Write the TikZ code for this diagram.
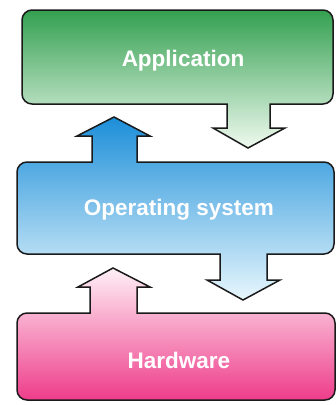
\documentclass[tikz,border=0pt]{standalone}
\usepackage{fontspec}
\setmainfont{Liberation Sans}
\definecolor{gTop}{HTML}{33A050}
\definecolor{gMid}{HTML}{6ABE7A}
\definecolor{gBot}{HTML}{F0FAF0}
\definecolor{bTop}{HTML}{1C8ED9}
\definecolor{bMid}{HTML}{5EB6EB}
\definecolor{bBot}{HTML}{E8F7FD}
\definecolor{pTop}{HTML}{FFF0F6}
\definecolor{pMid}{HTML}{F57CB3}
\definecolor{pBot}{HTML}{EE3C8A}
\definecolor{edge}{HTML}{1A1A1A}
\tikzset{
  layer/.style={draw=edge, line width=1.5pt, line join=miter},
  layerlabel/.style={text=white, font=\bfseries\fontsize{22.5}{26}\selectfont,
    inner sep=0pt, anchor=base}
}
\begin{document}
\begin{tikzpicture}[x=1pt,y=-1pt]
\useasboundingbox (0,0) rectangle (336,405);
\fill[white] (0,0) rectangle (336,405);

% Application layer with its downward arrow
\draw[layer, top color=gTop, middle color=gMid, bottom color=gBot]
  (120,10) [rounded corners=10] -- (333,10) -- (333,104) -- (290,104)
  [sharp corners] -- (270,104) -- (270,128) -- (285,128) -- (248,148)
  -- (213,128) -- (227,128) -- (227,104) -- (200,104)
  [rounded corners=10] -- (22,104) -- (22,10) -- cycle;

% Operating system layer with its upward and downward arrows
\draw[layer, top color=bTop, middle color=bMid, bottom color=bBot]
  (17,208) [rounded corners=10] -- (17,162) -- (70,162)
  [sharp corners] -- (92,162) -- (92,136) -- (77,136) -- (114,117)
  -- (150,136) -- (137,136) -- (137,162) -- (160,162)
  [rounded corners=10] -- (334,162) -- (334,254) -- (290,254)
  [sharp corners] -- (267,254) -- (267,280) -- (280,280) -- (243,300)
  -- (207,280) -- (220,280) -- (220,254) -- (200,254)
  [rounded corners=10] -- (17,254) -- cycle;

% Hardware layer with its upward arrow
\draw[layer, top color=pTop, middle color=pMid, bottom color=pBot]
  (17,356) [rounded corners=10] -- (17,313) -- (70,313)
  [sharp corners] -- (90,313) -- (90,287) -- (78,287) -- (113,268)
  -- (150,287) -- (137,287) -- (137,313) -- (160,313)
  [rounded corners=10] -- (335,313) -- (335,400) -- (17,400) -- cycle;

\node[layerlabel] (app) at (183,66) {Application};
\node[layerlabel] (os) at (179,215) {Operating system};
\node[layerlabel] (hw) at (179,368) {Hardware};
\end{tikzpicture}
\end{document}
